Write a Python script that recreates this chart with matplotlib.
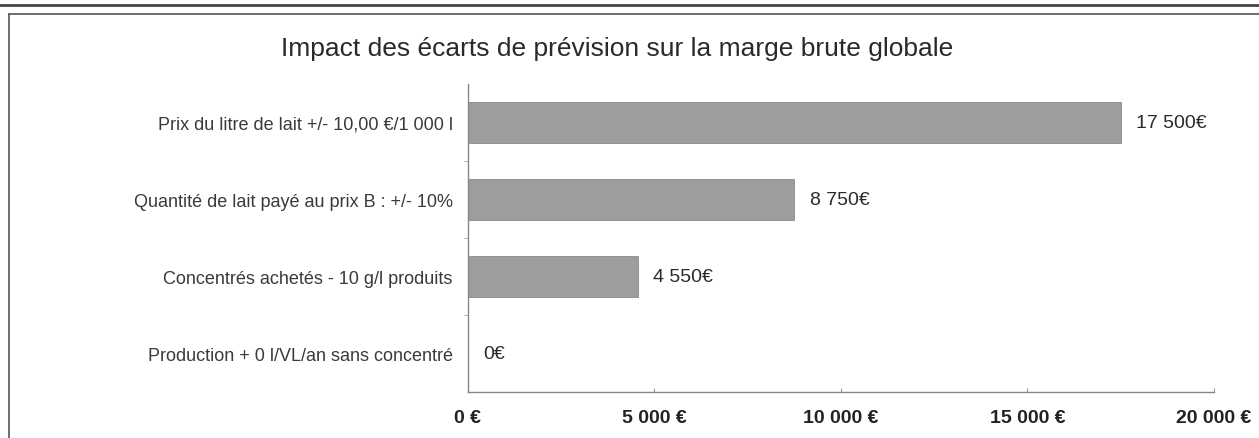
import matplotlib
matplotlib.use('Agg')
import matplotlib.pyplot as plt
from matplotlib.lines import Line2D

plt.rcParams['font.family'] = ['Liberation Sans', 'DejaVu Sans']

categories = ['Prix du litre de lait +/- 10,00 €/1 000 l',
              'Quantité de lait payé au prix B : +/- 10%',
              'Concentrés achetés - 10 g/l produits',
              'Production + 0 l/VL/an sans concentré']
values = [17500, 8750, 4550, 0]
value_labels = ['17 500€', '8 750€', '4 550€', '0€']
x_ticks = [0, 5000, 10000, 15000, 20000]
x_tick_labels = ['0 €', '5 000 €', '10 000 €', '15 000 €', '20 000 €']

fig = plt.figure(figsize=(12.59, 4.39), dpi=100)
ax = fig.add_axes([0.3717, 0.1048, 0.5925, 0.7016])

pos = list(range(len(categories)))
ax.barh(pos, values, height=0.53, color='#9d9d9d', edgecolor='#8a8a8a', linewidth=0.6)
ax.set_ylim(len(categories) - 0.5, -0.5)
ax.set_xlim(0, 20000)

for p, v, lab in zip(pos, values, value_labels):
    ax.annotate(lab, (v, p), xytext=(11, 0), textcoords='offset points',
                va='center', ha='left', fontsize=14, color='#2a2a2a')

ax.set_yticks(pos)
ax.set_yticklabels(categories, fontsize=13, color='#3a3a3a')
ax.set_yticks([p + 0.5 for p in pos[:-1]], minor=True)
ax.tick_params(axis='y', which='major', length=0, pad=11)
ax.tick_params(axis='y', which='minor', length=3, color='#999999', direction='out')

ax.set_xticks(x_ticks)
ax.set_xticklabels(x_tick_labels, fontsize=14, fontweight='bold', color='#222222',
                   family=['Liberation Sans Narrow', 'Liberation Sans', 'DejaVu Sans'])
ax.tick_params(axis='x', length=3, direction='in', color='#999999', pad=12)

for side in ['top', 'right']:
    ax.spines[side].set_visible(False)
for side in ['left', 'bottom']:
    ax.spines[side].set_color('#888888')
    ax.spines[side].set_linewidth(1.0)

fig.text(0.49, 0.889, 'Impact des écarts de prévision sur la marge brute globale',
         ha='center', va='center', fontsize=19, color='#2a2a2a')

# scanned page frame
fig.add_artist(Line2D([0, 1], [1 - 6 / 439, 1 - 6 / 439], color='#444444', lw=2.0))
fig.add_artist(Line2D([8.5 / 1259, 1], [1 - 15 / 439, 1 - 15 / 439], color='#555555', lw=1.2))
fig.add_artist(Line2D([8.5 / 1259, 8.5 / 1259], [0, 1 - 15 / 439], color='#555555', lw=1.2))

fig.savefig('out.png', dpi=100)
